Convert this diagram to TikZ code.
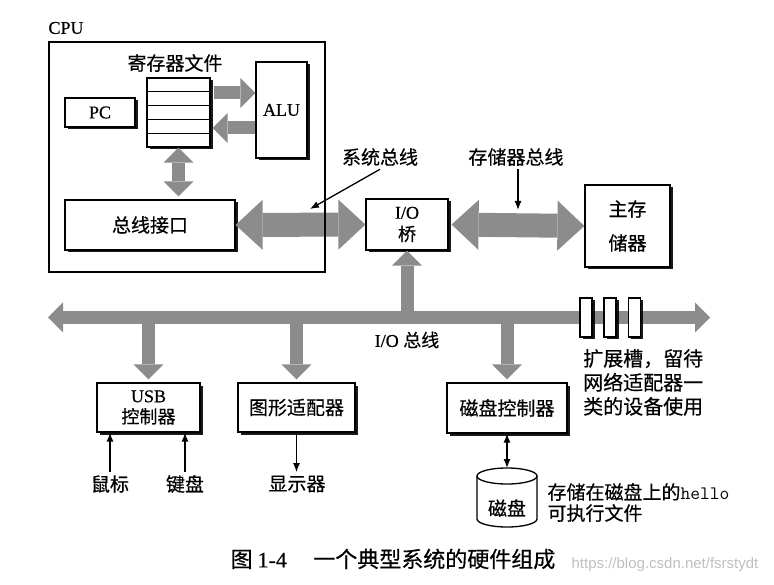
\documentclass[tikz,border=0pt]{standalone}
\usepackage{fontspec}
\setmainfont{Liberation Serif}[FakeBold=0.6]
\newfontfamily\cjk{Noto Sans CJK SC}[FakeBold=0.5]
\newfontfamily\wmfont{Liberation Sans}
\usetikzlibrary{arrows.meta,calc,shadows,positioning}

\tikzset{
  tipS/.tip={Triangle[length=15pt,width=30pt,line width=0pt]},
  tipL/.tip={Triangle[length=27pt,width=50pt,line width=0pt]},
}

\begin{document}
\begin{tikzpicture}[x=1pt, y=-1pt,
    font=\fontsize{18}{22}\selectfont,
    >={Latex[length=9pt,width=7pt]},
    zh/.style={font=\cjk\fontsize{19}{23}\selectfont},
    box/.style={draw, fill=white, line width=1.2pt, align=center,
        drop shadow={shadow xshift=2.5pt, shadow yshift=-2.5pt, fill=black, opacity=0.9}},
    bus/.style={draw=black!45, line width=13pt},
    widebus/.style={draw=black!45, line width=24pt},
    link/.style={line width=1.3pt}
  ]
  \useasboundingbox (0,0) rectangle (774,585);

  % CPU
  \node (cpulbl) at (66,28) {CPU};
  \node[zh] (rftitle) at (175,63) {寄存器文件};
  \node[box, minimum width=63pt, minimum height=69pt] (regfile) at (178.5,112.5) {};
  \foreach \i in {1,...,4}
    \draw[line width=1pt] ($(regfile.north west)!\i/5!(regfile.south west)$) -- ($(regfile.north east)!\i/5!(regfile.south east)$);
  \node[box, minimum width=70pt, minimum height=29pt] (pc) at (100,112.5) {PC};
  \node[box, minimum width=51pt, minimum height=96pt] (alu) at (281.5,110) {ALU};
  \node[box, zh, minimum width=170pt, minimum height=50pt] (busif) at (150,225) {总线接口};

  % I/O bridge, main memory
  \node[box, minimum width=82pt, minimum height=51pt] (bridge) at (407,224.5) {I/O\\{\cjk 桥}};
  \node[box, zh, minimum width=85pt, minimum height=82pt] (mem) at (627.5,226) {主存\\[11pt]储器};

  % controllers
  \node[box, minimum width=103pt, minimum height=49pt] (usb) at (148.5,407.5) {USB\\[-1pt]{\cjk 控制器}};
  \node[box, zh, minimum width=117pt, minimum height=49pt] (gfx) at (296.5,407.5) {图形适配器};
  \node[box, zh, minimum width=120pt, minimum height=50pt] (diskctl) at (507,408) {磁盘控制器};

  % wide arrows
  \draw[bus, -tipS] ($(regfile.east)+(3,-19.5)$) -- ($(alu.west)+(0,-17)$);
  \draw[bus, -tipS] ($(alu.west)+(0,18)$) -- ($(regfile.east)+(2,15.5)$);
  \draw[bus, tipS-tipS, shorten >=3pt] (regfile.south) -- (regfile.south |- busif.north);
  \draw[widebus, tipL-tipL] (busif.east) -- (bridge.west);
  \draw[widebus, tipL-tipL, shorten <=3pt] (bridge.east) -- (mem.west);

  % I/O bus
  \coordinate (busL) at (48,317.5);
  \coordinate (busR) at (710,317.5);
  \draw[bus, tipS-tipS] (busL) -- (busR);
  \draw[bus, -tipS] (bridge.south |- busL) -- (bridge.south);
  \foreach \dev in {usb, gfx, diskctl}
    \draw[bus, -tipS, shorten >=3pt] (\dev.north |- busL) -- (\dev.north);

  % slots
  \foreach \x [count=\i] in {586,610,634.5}
    \node[box, minimum width=12pt, minimum height=39pt, inner sep=0pt] (slot\i) at (\x,317.5) {};

  \node[draw, line width=2.5pt, minimum width=276pt, minimum height=230pt, inner sep=0pt] (cpu) at (187,157) {};

  % labels
  \node[zh] (sysbus) at (380,157) {系统总线};
  \node[zh] (membus) at (516,157) {存储器总线};
  \coordinate (sbhit) at (310,209);
  \coordinate (mbhit) at (518,210);
  \draw[link, ->] (sysbus.south) -- (sbhit);
  \draw[link, ->] (membus.south -| mbhit) -- (mbhit);

  \node (iobus) at (407,340) {I/O {\cjk 总线}};
  \node[zh, align=left, anchor=north west, inner sep=0pt, font=\cjk\fontsize{20}{24}\selectfont] (slottxt) at (583,349) {扩展槽，留待\\网络适配器一\\类的设备使用};

  % devices
  \node[zh] (mouse) at (110,484) {鼠标};
  \node[zh] (kbd) at (185,484) {键盘};
  \node[zh] (disp) at (297,484) {显示器};
  \draw[link, ->] (mouse) -- (mouse |- usb.south);
  \draw[link, ->] (kbd) -- (kbd |- usb.south);
  \draw[link, ->] (gfx.south) -- (gfx.south |- disp.north);

  % disk
  \draw[link, fill=white] (477,476) -- (477,519) arc[start angle=180, end angle=360, x radius=30pt, y radius=8pt] -- (537,476);
  \draw[link] (507,476) ellipse [x radius=30pt, y radius=8pt];
  \node[zh] (disk) at (507,508) {磁盘};
  \coordinate (disktop) at (507,468);
  \draw[link, <->] (diskctl.south) -- (disktop);
  \node[zh, align=left, anchor=west, font=\cjk\fontsize{19}{21}\selectfont] (disktxt) at (544,502.5) {存储在磁盘上的{\ttfamily\fontsize{19}{21}\selectfont hello}\\可执行文件};

  % caption
  \node[font=\cjk\fontsize{22}{26}\selectfont] (caption) at (393,559) {图 {\rmfamily 1-4}\hspace{1.2em}一个典型系统的硬件组成};
  \node[text=black!25, font=\wmfont\fontsize{15}{18}\selectfont] (wm) at (665,565) {https://blog.csdn.net/fsrstydt};
\end{tikzpicture}
\end{document}
